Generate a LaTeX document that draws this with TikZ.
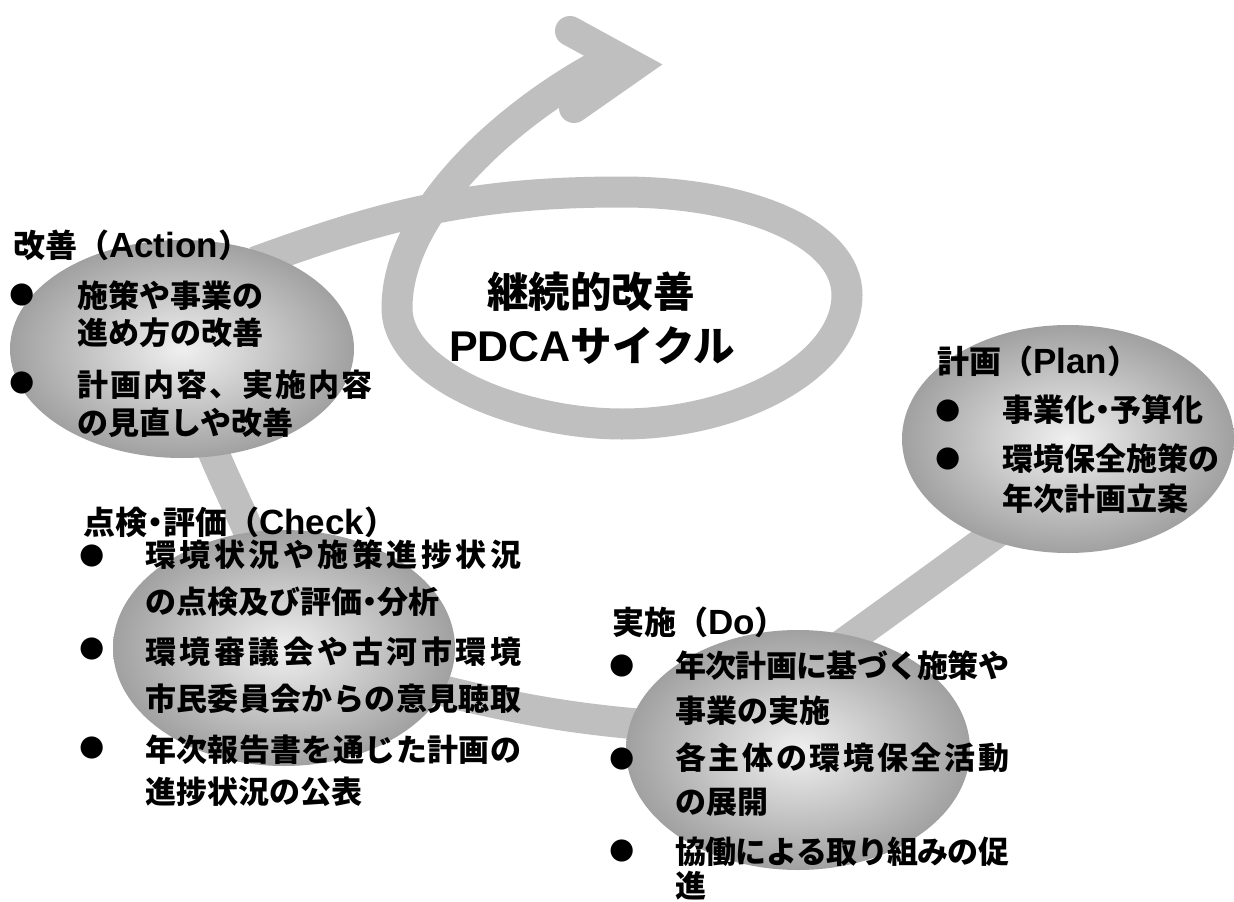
\documentclass[tikz,border=0pt]{standalone}
\usepackage{fontspec}
\usetikzlibrary{shapes.geometric,calc}
\newfontfamily\jp{Noto Sans CJK JP}
\newfontfamily\lat{Liberation Sans}
\newfontfamily\sym{DejaVu Sans}
\definecolor{bandgray}{RGB}{191,191,191}
\pgfdeclarelayer{background}
\pgfsetlayers{background,main}
\def\SpreadA#1{#1\SpreadB}
\def\SpreadB#1{\ifx\relax#1\else\hss#1\expandafter\SpreadB\fi}
\newcommand\spreadto[2]{\hbox to #1pt{\SpreadA#2\relax}}
\newcommand\nakaguro{{\addfontfeature{RawFeature=+palt}・}}
\newcommand\latT[1]{{\lat\fontsize{35pt}{35pt}\selectfont #1}}
\begin{document}
\begin{tikzpicture}[x=1pt,y=-1pt,
  band/.style={draw=bandgray, line width=31pt},
  bubble/.style={ellipse, inner sep=0pt, inner color=black!6, outer color=black!37},
  txt/.style={anchor=west, inner sep=0pt, font=\jp\bfseries\fontsize{31pt}{31pt}\selectfont, text height=25.7pt, text depth=2.2pt},
  ttl/.style={anchor=west, inner sep=0pt, font=\jp\bfseries\fontsize{32pt}{32pt}\selectfont, text height=26.5pt, text depth=2.2pt},
  bul/.style={anchor=center, inner sep=0pt, font=\sym\fontsize{29pt}{29pt}\selectfont},
  mid/.style={anchor=center, inner sep=0pt, font=\jp\bfseries\fontsize{41.5pt}{41.5pt}\selectfont, text height=34.4pt, text depth=2.9pt}]
\useasboundingbox (0,0) rectangle (1234,902);

% stages
\node[bubble, minimum width=344pt, minimum height=218pt] (action) at (182,349) {};
\node[bubble, minimum width=342pt, minimum height=236pt] (check) at (284,648) {};
\node[bubble, minimum width=344pt, minimum height=240pt] (do) at (798,750) {};
\node[bubble, minimum width=332pt, minimum height=228pt] (plan) at (1068,439) {};

% spiral band
\coordinate (loopTop) at (622,192);
\coordinate (loopRight) at (847,295);
\coordinate (loopBottom) at (622,424);
\coordinate (loopLeft) at (397,308);
\coordinate (shaftEnd) at (603,63);
\coordinate (headU) at (570,31);
\coordinate (headT) at (634,66);
\coordinate (headL) at (574,108);
\begin{pgfonlayer}{background}
  \fill[white] (0,0) rectangle (1234,902);
  \draw[band] ($(plan.center)+(-40,70)$) .. controls (960,560) and (890,610) .. ($(do.center)+(30,-95)$);
  \draw[band] ($(do.center)+(-98,-22)$) .. controls (560,722) and (480,700) .. ($(check.center)+(116,32)$);
  \draw[band] ($(check.center)+(-22,-83)$) .. controls (240,505) and (215,465) .. ($(action.center)+(18,66)$);
  \draw[band] ($(action.center)+(73,-87)$) .. controls (392,212) and (476,192) .. (loopTop)
     .. controls (746,192) and (847,233) .. (loopRight)
     .. controls (847,365) and (740,424) .. (loopBottom)
     .. controls (520,424) and (397,375) .. (loopLeft)
     .. controls (397,208) and (514.5,109.7) .. (shaftEnd);
  \draw[band, line width=30pt, line cap=round, miter limit=10] (headU) -- (headT) -- (headL);
\end{pgfonlayer}

% centre
\node[mid] (c1) at (591,292) {継続的改善};
\node[mid] (c2) at (592,346) {{\lat\fontsize{43pt}{43pt}\selectfont PDCA}サイクル};

% Action
\node[ttl] (actT) at (13,245) {改善（\latT{Action}）};
\node[bul] (actB1) at (22,295) {●};
\node[txt] (act1) at (77,296) {施策や事業の};
\node[txt] (act2) at (77,333) {進め方の改善};
\node[bul] (actB2) at (22,383) {●};
\node[txt] (act3) at (77,385) {\spreadto{295}{計画内容、実施内容}};
\node[txt] (act4) at (77,423) {の見直しや改善};

% Check
\node[ttl] (chkT) at (83,522) {点検\nakaguro 評価（\latT{Check}）};
\node[bul] (chkB1) at (92,556) {●};
\node[txt] (chk1) at (145,555) {\spreadto{376}{環境状況や施策進捗状況}};
\node[txt] (chk2) at (145,602) {の点検及び評価\nakaguro 分析};
\node[bul] (chkB2) at (92,649) {●};
\node[txt] (chk3) at (145,652) {\spreadto{376}{環境審議会や古河市環境}};
\node[txt] (chk4) at (145,699) {\spreadto{376}{市民委員会からの意見聴取}};
\node[bul] (chkB3) at (92,748) {●};
\node[txt] (chk5) at (145,750) {\spreadto{376}{年次報告書を通じた計画の}};
\node[txt] (chk6) at (145,792) {進捗状況の公表};

% Do
\node[ttl] (doT) at (612,622) {実施（\latT{Do}）};
\node[bul] (doB1) at (622,666) {●};
\node[txt] (do1) at (675,666) {\spreadto{334}{年次計画に基づく施策や}};
\node[txt] (do2) at (675,711) {事業の実施};
\node[bul] (doB2) at (622,759) {●};
\node[txt] (do3) at (675,758) {\spreadto{334}{各主体の環境保全活動}};
\node[txt] (do4) at (675,802) {の展開};
\node[bul] (doB3) at (622,851) {●};
\node[txt] (do5) at (675,852) {\spreadto{334}{協働による取り組みの促}};
\node[txt] (do6) at (675,886) {進};

% Plan
\node[ttl] (plnT) at (937,361) {計画（\latT{Plan}）};
\node[bul] (plnB1) at (948,411) {●};
\node[txt] (pln1) at (1002,410) {事業化\nakaguro 予算化};
\node[bul] (plnB2) at (948,459) {●};
\node[txt] (pln2) at (1002,459) {環境保全施策の};
\node[txt] (pln3) at (1002,499) {年次計画立案};
\end{tikzpicture}
\end{document}
